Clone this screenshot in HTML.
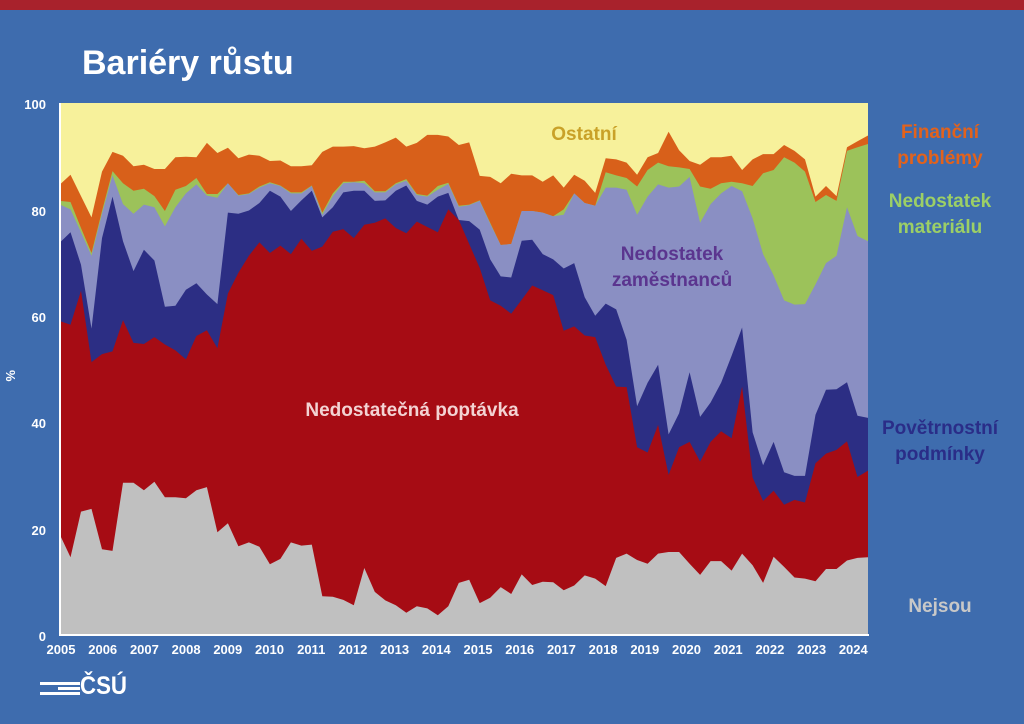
<!DOCTYPE html>
<html><head><meta charset="utf-8">
<style>
body{margin:0;width:1024px;height:724px;background:#3e6cae;overflow:hidden;font-family:"Liberation Sans",sans-serif;}
svg{position:absolute;left:0;top:0}
</style></head><body>
<svg id="s" width="1024" height="724" xmlns="http://www.w3.org/2000/svg">
<rect x="0" y="0" width="1024" height="10" fill="#a8222c"/>
<text x="82" y="74" font-size="34" font-weight="bold" fill="#fff">Bariéry růstu</text>
<g id="plot"></g>
<line x1="60" y1="103" x2="60" y2="636" stroke="#fff" stroke-width="2"/>
<line x1="59" y1="635" x2="869" y2="635" stroke="#fff" stroke-width="2"/>
<g font-size="13" font-weight="bold" fill="#fff" text-anchor="end">
<text x="46" y="109">100</text><text x="46" y="216">80</text><text x="46" y="322">60</text>
<text x="46" y="428">40</text><text x="46" y="535">20</text><text x="46" y="641">0</text>
</g>
<text x="6" y="370" font-size="13" font-weight="bold" fill="#fff" transform="rotate(90 6 370)">%</text>
<g id="xl" font-size="13" font-weight="bold" fill="#fff" text-anchor="middle"></g>
<g font-weight="bold" font-size="19" text-anchor="middle">
<text x="584" y="140" fill="#c9a128">Ostatní</text>
<text x="672" y="260" fill="#5b358f">Nedostatek</text>
<text x="672" y="286" fill="#5b358f">zaměstnanců</text>
<text x="412" y="416" fill="#f3d3d3">Nedostatečná poptávka</text>
<text x="940" y="138" fill="#e2621c">Finanční</text>
<text x="940" y="164" fill="#e2621c">problémy</text>
<text x="940" y="207" fill="#9ccf66">Nedostatek</text>
<text x="940" y="233" fill="#9ccf66">materiálu</text>
<text x="940" y="434" fill="#2a2d88">Povětrnostní</text>
<text x="940" y="460" fill="#2a2d88">podmínky</text>
<text x="940" y="612" fill="#c8c8c8">Nejsou</text>
</g>
<g fill="#fff">
<rect x="40" y="682" width="40" height="3"/><rect x="58" y="687" width="22" height="3"/><rect x="40" y="692" width="40" height="3"/>
<text x="80" y="694" font-size="25" font-weight="bold" textLength="47" lengthAdjust="spacingAndGlyphs">ČSÚ</text>
</g>
</svg>
<script>
var gray=[18.8,14.6,23.2,23.7,16.1,15.8,28.6,28.6,27.2,28.8,25.9,25.9,25.7,27.2,27.8,19.3,21,16.7,17.4,16.6,13.3,14.3,17.4,16.8,17,7.3,7.2,6.6,5.6,12.6,8.1,6.5,5.6,4.2,5.4,5,3.7,5.4,9.8,10.4,6,7,9,7.7,11.4,9.4,10,9.9,8.4,9.3,11.2,10.6,9.2,14.5,15.3,14.1,13.4,15.3,15.6,15.6,13.4,11.3,13.9,13.9,12.1,15.3,13.1,9.8,14.7,12.8,10.8,10.6,10.1,12.4,12.4,14,14.5,14.6];
var red=[59,58.3,64.7,51.3,52.8,53.3,59.2,54.9,54.7,56,54.6,53.5,51.8,56.2,57.3,53.9,64.2,68.1,71.3,73.8,71.8,73.2,71.6,74.5,72.2,73,75.8,76.3,74.6,77.1,77.5,78.3,76.5,75.5,77.7,76.7,75.7,80,78,73.5,69,62.9,61.9,60.4,63,65.7,64.8,63.9,57.2,58,56.3,56,50.8,46.7,46.6,35.3,34.3,39.5,30.1,35.3,36.3,32.6,36.3,38.3,37,46.7,29.6,25.2,27.1,24.5,25.4,24.9,32.3,34.1,34.8,36.4,29.7,30.9];
var navy=[73.8,75.7,69.6,57.6,74.6,82.4,74,68.4,72.4,70.4,61.7,61.9,64.9,66.1,64,62.2,79.4,79.2,79.8,81.2,83.5,82.4,79.7,81.7,83.5,78.5,80.4,83.2,83.5,83.5,81.6,81.7,83.5,84.5,81.6,80.9,82.4,83.1,78,77.8,76.2,70.6,67.4,67.2,74.1,74.3,71.6,70.6,68.9,69.9,63.5,60,62.3,61.2,55.5,43,47.4,50.8,37.7,41.7,49.4,41,43.7,47.4,52.5,57.8,38.1,31.9,36.3,30.6,29.9,29.9,41.4,46.1,46.2,47.5,41.2,40.8];
var lav=[80.9,80,75.7,71.3,79.2,86.4,81,79.2,80.9,80.4,76.8,80.4,83,84.7,82.6,82.2,84.9,82.6,82.9,84.1,84.9,84.4,83,83,84.4,79,82.5,84.9,85.1,84.9,83.2,83.2,84.7,85.4,82.7,82.4,83.7,84.8,80.5,80.8,81.6,77.3,73.3,73.5,79.7,79.7,79.4,78.7,79,83,81.2,80.7,84.1,84.1,83.7,79,82.4,84.7,84.1,84.3,86.1,77.5,81,83,84.4,83.4,78.3,71.6,67.6,62.9,62.1,62.2,65.9,69.9,71.3,80.4,75,74];
var grn=[81.6,81.4,76.5,71.8,79.7,87.2,84.9,83.5,83.9,82.5,79.7,83.7,84.4,85.9,82.9,82.9,84.9,82.7,83,84.3,85.1,84.5,83.2,83.2,84.5,79.4,83,85.2,85.2,85.4,83.4,83.4,84.9,85.7,82.9,82.6,84.4,85,80.7,80.9,81.7,77.5,73.3,73.5,79.7,79.7,79.4,78.7,80,83,81.2,80.7,87,86.4,85.9,84.3,87.4,88.8,88.1,87.9,87.6,84.3,83.9,84.9,85.2,84.9,84.4,86.8,87.4,89.8,88.8,87.1,81.4,82.7,81.6,91,91.7,92.3];
var org=[84.7,86.5,82.5,78.5,87.1,90.8,90.1,88.1,88.4,87.6,87.6,89.8,89.9,89.8,92.5,90.6,91.6,89.6,90.3,90.1,89.1,89.2,88.1,88.1,88.3,90.8,91.8,91.8,91.9,91.5,91.8,92.6,93.5,91.8,92.5,94,94,93.7,92.1,92.6,86.3,86.1,84.9,86.7,86.4,86.4,85.2,86.4,84.1,86.5,85.4,83.1,89.6,89.4,88.8,86.5,89.8,90.6,94.6,91.1,89.1,88.4,89.8,89.8,90.1,87.4,89.4,90.4,90.4,92.1,91,89.4,82.4,84.4,82.5,91.7,92.8,93.9];
var X=function(i){return 60+i*808/77},Y=function(p){return 635-p*5.32};
var g=document.getElementById('plot'),ns='http://www.w3.org/2000/svg';
var r=document.createElementNS(ns,'rect');r.setAttribute('x',60);r.setAttribute('y',103);r.setAttribute('width',808);r.setAttribute('height',532);r.setAttribute('fill','#f7f19b');g.appendChild(r);
[[org,'#d8601a'],[grn,'#9cc25a'],[lav,'#8a8fc3'],[navy,'#2c2e84'],[red,'#a60c14'],[gray,'#c0c0c0']].forEach(function(s){
 var d='M60,635';s[0].forEach(function(v,i){d+=' L'+X(i).toFixed(1)+','+Y(v).toFixed(1)});d+=' L868,635Z';
 var p=document.createElementNS(ns,'path');p.setAttribute('d',d);p.setAttribute('fill',s[1]);g.appendChild(p);});
var xl=document.getElementById('xl');
for(var y=2005;y<=2024;y++){var t=document.createElementNS(ns,'text');t.setAttribute('x',(61+(y-2005)*41.7).toFixed(1));t.setAttribute('y',654);t.textContent=y;xl.appendChild(t);}
</script>
</body></html>
